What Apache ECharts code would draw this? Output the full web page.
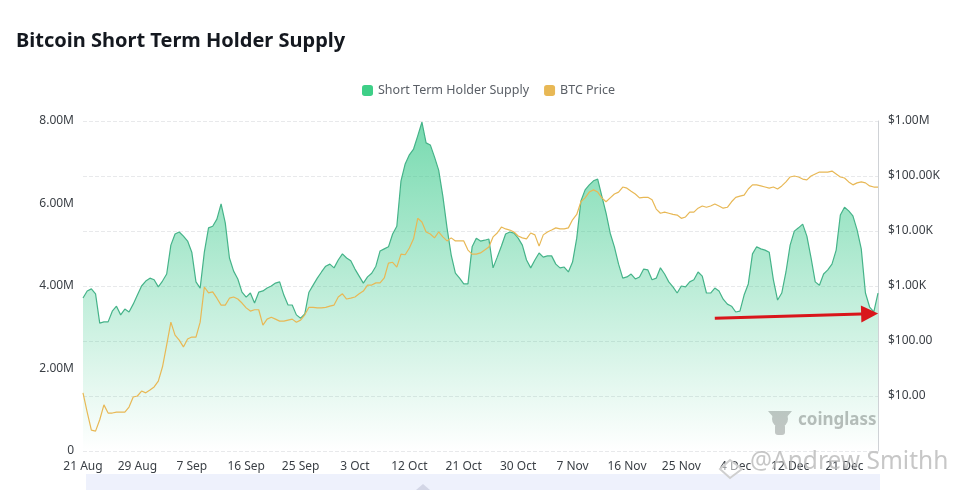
<!DOCTYPE html>
<html>
<head>
<meta charset="utf-8">
<style>html,body{margin:0;padding:0;background:#fff}#c{width:957px;height:490px}</style>
<script src="https://cdn.jsdelivr.net/npm/echarts@6/dist/echarts.min.js"></script>
</head>
<body>
<div id="c"></div>
<script>
const titleText = "Bitcoin Short Term Holder Supply";
const dateTickLabels = ["21 Aug","29 Aug","7 Sep","16 Sep","25 Sep","3 Oct","12 Oct","21 Oct","30 Oct","7 Nov","16 Nov","25 Nov","4 Dec","12 Dec","21 Dec"];
const priceTickLabels = {1:"",10:"$10.00",100:"$100.00",1000:"$1.00K",10000:"$10.00K",100000:"$100.00K",1000000:"$1.00M"};
// Short term holder supply, millions of BTC
const supplyMillions = [3.71,3.88,3.93,3.81,3.10,3.13,3.13,3.39,3.51,3.30,3.44,3.37,3.56,3.78,4.00,4.12,4.19,4.15,3.98,4.12,
4.29,4.99,5.26,5.31,5.21,5.09,4.82,4.10,3.95,4.82,5.41,5.45,5.62,5.99,5.53,4.68,4.36,4.17,3.85,3.73,
3.83,3.59,3.85,3.88,3.95,4.00,4.07,4.10,3.78,3.54,3.54,3.30,3.22,3.32,3.85,4.02,4.19,4.34,4.48,4.53,
4.44,4.63,4.78,4.68,4.61,4.41,4.24,4.07,4.22,4.31,4.48,4.85,4.90,4.95,5.26,5.45,6.55,6.96,7.18,7.32,
7.64,7.97,7.47,7.42,7.13,6.81,6.18,5.41,4.75,4.31,4.19,4.05,4.05,4.95,5.16,5.09,5.11,5.14,4.44,4.70,
4.97,5.26,5.31,5.28,5.16,4.99,4.63,4.44,4.63,4.80,4.70,4.73,4.73,4.53,4.44,4.46,4.34,4.58,5.16,6.06,
6.33,6.45,6.55,6.59,6.18,5.77,5.28,4.95,4.53,4.19,4.22,4.29,4.17,4.22,4.41,4.39,4.15,4.19,4.44,4.29,
4.10,3.98,3.83,4.00,3.98,4.10,4.15,4.34,4.24,3.83,3.83,3.95,3.88,3.68,3.56,3.51,3.37,3.39,3.78,4.05,
4.78,4.95,4.90,4.87,4.82,4.15,3.66,3.83,4.34,4.99,5.33,5.41,5.50,5.21,4.68,4.10,4.02,4.29,4.39,4.53,
4.87,5.72,5.91,5.82,5.70,5.36,4.90,3.83,3.49,3.37,3.83];
// BTC price, US dollars
const btcPrice = [11.4,5.1,2.4,2.3,3.7,6.9,4.9,4.9,5.1,5.1,5.1,6.3,9.6,10,12.3,11.4,12.8,14.6,18.7,34,
85,220,128,104,78,109,118,118,220,960,750,780,600,450,450,600,630,580,490,400,
350,370,370,195,250,270,250,230,230,240,250,220,240,300,410,410,400,400,410,430,
450,630,720,580,600,630,720,810,1040,1040,1140,1140,1400,2600,2700,2200,3800,3700,4900,7200,
17000,14600,9600,8800,7500,9600,7800,6600,7500,6600,6600,6600,4500,3800,3800,4000,4500,5100,7800,9200,
11800,10900,10400,9600,8100,7500,7200,9200,8500,5300,8500,9600,10400,11400,10900,10900,11400,16000,20000,34000,
40000,51000,56000,51000,40000,34000,40000,47000,51000,63000,60000,53000,47000,40000,41000,41000,37000,25000,21000,22000,
21000,20000,19500,17000,18000,22000,22000,26000,28500,27000,28500,31000,28500,26000,27000,34000,41000,43000,45000,58000,
69000,69000,66000,63000,60000,63000,58000,66000,78000,96000,100000,96000,88000,85000,100000,109000,118000,118000,118000,123000,
109000,96000,92000,78000,69000,75000,78000,75000,66000,63000,63000];
const pointLabels = supplyMillions.map((_, i) => String(i));
const arrowStart = [151, 3.22];
const arrowEnd = [188, 3.33];
const font = '"Noto Sans", sans-serif';

const chart = echarts.init(document.getElementById('c'), null, {renderer:'canvas'});
chart.setOption({
  animation:false,
  backgroundColor:'#fff',
  title:{text:titleText,left:11,top:26,textStyle:{fontFamily:font,fontSize:20,fontWeight:'bold',color:'#14181f'}},
  legend:{top:79,left:357,itemWidth:11,itemHeight:11,itemGap:15,icon:'roundRect',
    textStyle:{fontFamily:font,fontSize:12.5,color:'#5a5f66'},
    data:['Short Term Holder Supply','BTC Price']},
  grid:{left:83,right:79,top:121,bottom:39,containLabel:false},
  xAxis:{type:'category',data:pointLabels,boundaryGap:false,
    axisLine:{show:false},axisTick:{show:false},splitLine:{show:false},
    axisLabel:{interval:12,margin:10,hideOverlap:false,fontFamily:font,fontSize:12,color:'#3a3f45',
      formatter:(v,i)=>dateTickLabels[i/13]||''}},
  yAxis:[
    {type:'value',min:0,max:8,interval:2,position:'left',
      axisLine:{show:false},axisTick:{show:false},splitLine:{show:false},
      axisLabel:{margin:9,fontFamily:font,fontSize:12,color:'#3a3f45',formatter:v=>v===0?'0':v.toFixed(2)+'M'}},
    {type:'log',logBase:10,min:1,max:1000000,position:'right',
      axisLine:{show:true,lineStyle:{color:'#cfd2d6',width:1}},axisTick:{show:false},
      splitLine:{show:true,lineStyle:{type:'dashed',color:'#e8e9eb',width:1}},
      axisLabel:{margin:10,fontFamily:font,fontSize:12,color:'#3a3f45',formatter:v=>priceTickLabels[Math.round(v)]||''}}
  ],
  series:[
    {name:'Short Term Holder Supply',type:'line',yAxisIndex:0,data:supplyMillions,showSymbol:false,smooth:false,
      itemStyle:{color:'#3ecf87'},
      lineStyle:{color:'#45b389',width:1.2},
      areaStyle:{color:new echarts.graphic.LinearGradient(0,0,0,1,[
        {offset:0,color:'rgba(52,200,136,0.95)'},{offset:1,color:'rgba(52,200,136,0)'}])},
      z:2,
      markLine:{silent:true,animation:false,symbol:['none','triangle'],symbolSize:17,
        lineStyle:{color:'#d9161b',width:3,type:'solid'},label:{show:false},
        data:[[{coord:arrowStart,symbol:'none'},{coord:arrowEnd,symbol:'triangle',symbolSize:17}]],z:10}},
    {name:'BTC Price',type:'line',yAxisIndex:1,data:btcPrice,showSymbol:false,smooth:false,
      itemStyle:{color:'#e8b855'},lineStyle:{color:'#e8b855',width:1.2},z:3}
  ],
  graphic:[
    {type:'rect',z:0,shape:{x:86,y:474,width:794,height:16},style:{fill:'#eef1fc'}},
    {type:'polygon',z:1,shape:{points:[[416,490],[423,484],[430,490]]},style:{fill:'#d3d6e6'}},
    {type:'circle',z:1,shape:{cx:780,cy:419,r:8},style:{fill:'#c6c6c6'}},
    {type:'rect',z:1,shape:{x:775,y:424,width:10,height:11,r:3},style:{fill:'#c6c6c6'}},
    {type:'polygon',z:1,shape:{points:[[768,411],[792,411],[786,418],[774,418]]},style:{fill:'#c6c6c6'}},
    {type:'text',z:1,style:{x:798,y:412,text:'coinglass',fill:'#bcbcbc',font:'bold 17px "Noto Sans", sans-serif'}},
    {type:'polygon',z:20,shape:{points:[[730,460],[742,469],[730,478],[720,469]]},style:{fill:'rgba(255,255,255,0.5)',stroke:'#cfcfcf',lineWidth:2}},
    {type:'text',z:20,style:{x:750,y:450,text:'@Andrew Smithh',fill:'rgba(180,180,180,0.75)',font:'24.5px "Noto Sans", sans-serif'}}
  ]
});
</script>
</body>
</html>
